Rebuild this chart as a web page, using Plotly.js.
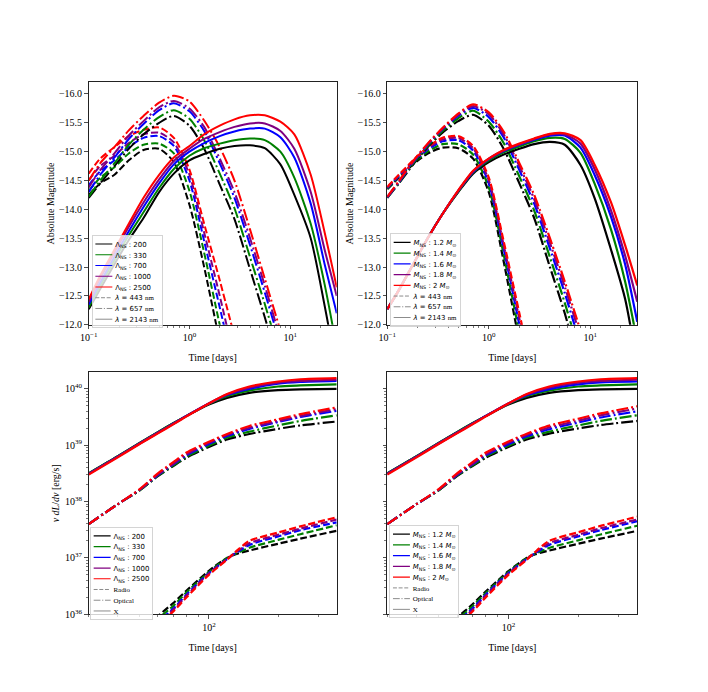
<!DOCTYPE html>
<html><head><meta charset="utf-8">
<script src="https://cdn.plot.ly/plotly-3.0.1.min.js"></script>
<style>html,body{margin:0;padding:0;background:#fff}#chart{width:708px;height:692px}</style>
</head><body><div id="chart"></div><script>
// ---------- tick labels / categories ----------
const LAMBDA_LABELS = ['200', '330', '700', '1000', '2500'];
const MASS_LABELS = ['1.2', '1.4', '1.6', '1.8', '2'];
const BAND_LABELS = ['443', '657', '2143'];
const CHANNEL_LABELS = ['Radio', 'Optical', 'X'];
const X_TOP_TICKS = [0.1, 1, 10];
const X_TOP_TEXT = ['10<sup>−1</sup>', '10<sup>0</sup>', '10<sup>1</sup>'];
const X_BOT_TICKS = [100];
const X_BOT_TEXT = ['10<sup>2</sup>'];
const Y_BOT_TICKS = [1e36, 1e37, 1e38, 1e39, 1e40];
const Y_BOT_TEXT = ['10<sup>36</sup>', '10<sup>37</sup>', '10<sup>38</sup>', '10<sup>39</sup>', '10<sup>40</sup>'];

// ---------- time grids (days) ----------
const T_TOP = [0.1, 0.13, 0.18, 0.25, 0.35, 0.5, 0.7, 1.0, 1.4, 2.0, 2.8, 4.0, 5.6, 8.0, 11, 16, 22, 29];
const T_BOT = [30, 40, 50, 60, 70, 80, 100, 120, 150, 200, 250, 360];
const T_RADIO = [50, 60, 70, 80, 100, 120, 130, 150, 200, 250, 360];

// ---------- Panel A: Lambda_NS, absolute magnitude (rows: 200,330,700,1000,2500) ----------
const A_443 = [
  [-14.25, -14.45, -14.6, -14.85, -15.03, -15.05, -14.82, -14.08, -13.0, -11.7],
  [-14.32, -14.55, -14.73, -14.97, -15.12, -15.14, -14.97, -14.32, -13.25, -12.0, -10.9],
  [-14.42, -14.66, -14.85, -15.08, -15.24, -15.27, -15.1, -14.5, -13.45, -12.3, -11.2],
  [-14.5, -14.75, -14.93, -15.15, -15.3, -15.33, -15.16, -14.6, -13.6, -12.5, -11.4],
  [-14.62, -14.88, -15.08, -15.27, -15.38, -15.42, -15.24, -14.69, -13.75, -12.77, -11.8]
];
const A_657 = [
  [-14.2, -14.45, -14.75, -15.05, -15.3, -15.5, -15.62, -15.45, -15.05, -14.43, -13.83, -12.96, -12.13, -11.2],
  [-14.22, -14.5, -14.8, -15.12, -15.38, -15.6, -15.72, -15.57, -15.2, -14.62, -14.02, -13.17, -12.36, -11.45],
  [-14.3, -14.6, -14.9, -15.22, -15.48, -15.72, -15.84, -15.7, -15.36, -14.8, -14.2, -13.38, -12.56, -11.65],
  [-14.38, -14.68, -14.97, -15.28, -15.53, -15.77, -15.88, -15.75, -15.43, -14.88, -14.3, -13.5, -12.68, -11.75],
  [-14.5, -14.8, -15.08, -15.37, -15.62, -15.85, -15.97, -15.87, -15.54, -15.08, -14.5, -13.65, -12.8, -11.9]
];
const A_2143 = [
  [-12.27, -12.62, -13.05, -13.47, -13.85, -14.3, -14.62, -14.85, -14.96, -15.05, -15.1, -15.11, -15.06, -14.78, -14.25, -13.5, -12.33, -11.2],
  [-12.3, -12.68, -13.12, -13.55, -13.95, -14.37, -14.7, -14.93, -15.06, -15.14, -15.2, -15.23, -15.2, -15.0, -14.55, -13.75, -12.7, -11.6],
  [-12.35, -12.73, -13.18, -13.62, -14.04, -14.45, -14.78, -15.0, -15.15, -15.27, -15.35, -15.4, -15.4, -15.25, -14.9, -14.1, -13.05, -12.2],
  [-12.4, -12.8, -13.25, -13.7, -14.12, -14.52, -14.84, -15.05, -15.22, -15.34, -15.43, -15.49, -15.49, -15.36, -15.05, -14.3, -13.3, -12.5],
  [-12.44, -12.85, -13.3, -13.75, -14.2, -14.6, -14.9, -15.1, -15.3, -15.45, -15.56, -15.63, -15.63, -15.52, -15.3, -14.6, -13.6, -12.65]
];

// ---------- Panel B: M_NS, absolute magnitude (rows: 1.2,1.4,1.6,1.8,2) ----------
const B_443 = [
  [-14.35, -14.55, -14.78, -14.97, -15.07, -15.06, -14.88, -14.3, -13.1, -11.7],
  [-14.36, -14.57, -14.8, -15.0, -15.13, -15.13, -14.95, -14.38, -13.22, -11.85],
  [-14.37, -14.58, -14.82, -15.04, -15.18, -15.2, -15.02, -14.45, -13.32, -12.0, -10.8],
  [-14.38, -14.59, -14.83, -15.06, -15.21, -15.24, -15.06, -14.5, -13.38, -12.1, -10.9],
  [-14.39, -14.6, -14.85, -15.08, -15.24, -15.27, -15.1, -14.55, -13.45, -12.2, -11.0]
];
const B_657 = [
  [-14.2, -14.45, -14.78, -15.08, -15.33, -15.53, -15.64, -15.45, -15.05, -14.45, -13.85, -13.0, -12.2, -11.2],
  [-14.2, -14.46, -14.8, -15.1, -15.36, -15.58, -15.71, -15.52, -15.15, -14.57, -13.98, -13.17, -12.38, -11.45],
  [-14.21, -14.47, -14.82, -15.12, -15.39, -15.62, -15.76, -15.6, -15.25, -14.68, -14.1, -13.32, -12.55, -11.65],
  [-14.21, -14.48, -14.83, -15.13, -15.4, -15.64, -15.79, -15.65, -15.3, -14.75, -14.18, -13.42, -12.66, -11.8],
  [-14.22, -14.49, -14.84, -15.14, -15.41, -15.66, -15.82, -15.68, -15.35, -14.8, -14.25, -13.5, -12.75, -11.9]
];
const B_2143 = [
  [-12.27, -12.6, -13.05, -13.5, -13.92, -14.3, -14.62, -14.82, -14.95, -15.05, -15.13, -15.17, -15.12, -14.77, -14.2, -13.3, -12.45, -11.3],
  [-12.27, -12.6, -13.05, -13.5, -13.92, -14.31, -14.64, -14.85, -14.99, -15.09, -15.18, -15.24, -15.22, -14.98, -14.45, -13.65, -12.75, -11.7],
  [-12.27, -12.6, -13.05, -13.5, -13.92, -14.32, -14.65, -14.87, -15.01, -15.12, -15.21, -15.28, -15.28, -15.07, -14.6, -13.87, -13.05, -12.05],
  [-12.27, -12.6, -13.05, -13.5, -13.92, -14.32, -14.66, -14.88, -15.02, -15.13, -15.22, -15.3, -15.3, -15.14, -14.7, -13.98, -13.2, -12.4],
  [-12.27, -12.6, -13.05, -13.5, -13.92, -14.33, -14.67, -14.88, -15.03, -15.14, -15.23, -15.31, -15.32, -15.2, -14.78, -14.12, -13.38, -12.68]
];

// ---------- Panel C: Lambda_NS, nu dL/dnu [erg/s] ----------
const C_RADIO = [
  [5.0e35, 9.3e35, 1.58e36, 2.63e36, 5.9e36, 1.0e37, 1.15e37, 1.35e37, 1.78e37, 2.19e37, 3.02e37],
  [4.4e35, 8.3e35, 1.41e36, 2.45e36, 5.6e36, 1.0e37, 1.17e37, 1.51e37, 2.09e37, 2.63e37, 3.8e37],
  [4.0e35, 7.4e35, 1.26e36, 2.24e36, 5.4e36, 9.5e36, 1.2e37, 1.7e37, 2.4e37, 3.1e37, 4.27e37],
  [3.7e35, 6.9e35, 1.2e36, 2.14e36, 5.25e36, 9.5e36, 1.23e37, 1.82e37, 2.57e37, 3.31e37, 4.79e37],
  [3.4e35, 6.3e35, 1.12e36, 2.0e36, 5.0e36, 9.3e36, 1.26e37, 2.0e37, 2.82e37, 3.63e37, 5.25e37]
];
const C_OPT = [
  [3.98e37, 8.9e37, 1.58e38, 2.82e38, 4.27e38, 6.0e38, 9.3e38, 1.26e39, 1.58e39, 1.95e39, 2.24e39, 2.63e39],
  [3.98e37, 8.9e37, 1.58e38, 2.88e38, 4.37e38, 6.3e38, 9.8e38, 1.35e39, 1.74e39, 2.24e39, 2.69e39, 3.39e39],
  [3.98e37, 8.9e37, 1.62e38, 2.95e38, 4.57e38, 6.6e38, 1.05e39, 1.45e39, 1.95e39, 2.57e39, 3.16e39, 4.07e39],
  [3.98e37, 8.9e37, 1.62e38, 3.0e38, 4.68e38, 6.9e38, 1.1e39, 1.51e39, 2.04e39, 2.69e39, 3.31e39, 4.37e39],
  [3.98e37, 8.9e37, 1.66e38, 3.16e38, 5.0e38, 7.4e38, 1.15e39, 1.58e39, 2.19e39, 2.88e39, 3.55e39, 4.68e39]
];
const C_X = [
  [3.16e38, 6.3e38, 1.1e39, 1.7e39, 2.45e39, 3.31e39, 5.25e39, 6.9e39, 8.5e39, 9.5e39, 9.8e39, 1.0e40],
  [3.16e38, 6.3e38, 1.1e39, 1.7e39, 2.45e39, 3.31e39, 5.4e39, 7.4e39, 9.3e39, 1.1e40, 1.15e40, 1.2e40],
  [3.1e38, 6.2e38, 1.07e39, 1.66e39, 2.4e39, 3.31e39, 5.5e39, 7.8e39, 1.0e40, 1.23e40, 1.32e40, 1.38e40],
  [3.1e38, 6.2e38, 1.07e39, 1.66e39, 2.4e39, 3.31e39, 5.5e39, 7.9e39, 1.05e40, 1.29e40, 1.38e40, 1.46e40],
  [3.0e38, 6.0e38, 1.05e39, 1.62e39, 2.34e39, 3.24e39, 5.5e39, 8.1e39, 1.1e40, 1.35e40, 1.48e40, 1.55e40]
];

// ---------- Panel D: M_NS, nu dL/dnu [erg/s] ----------
const D_RADIO = [
  [4.6e35, 8.7e35, 1.5e36, 2.55e36, 5.8e36, 1.0e37, 1.15e37, 1.35e37, 1.78e37, 2.19e37, 3.02e37],
  [4.2e35, 8.0e35, 1.38e36, 2.4e36, 5.6e36, 1.0e37, 1.17e37, 1.5e37, 2.05e37, 2.6e37, 3.72e37],
  [3.9e35, 7.3e35, 1.26e36, 2.24e36, 5.4e36, 9.6e36, 1.2e37, 1.7e37, 2.4e37, 3.1e37, 4.47e37],
  [3.6e35, 6.8e35, 1.2e36, 2.14e36, 5.25e36, 9.5e36, 1.23e37, 1.82e37, 2.57e37, 3.35e37, 4.79e37],
  [3.4e35, 6.3e35, 1.12e36, 2.0e36, 5.0e36, 9.3e36, 1.26e37, 2.0e37, 2.85e37, 3.7e37, 5.37e37]
];
const D_OPT = [
  [3.98e37, 8.9e37, 1.58e38, 2.82e38, 4.27e38, 6.0e38, 9.3e38, 1.26e39, 1.6e39, 1.98e39, 2.28e39, 2.69e39],
  [3.98e37, 8.9e37, 1.58e38, 2.88e38, 4.37e38, 6.3e38, 9.8e38, 1.35e39, 1.74e39, 2.24e39, 2.69e39, 3.39e39],
  [3.98e37, 8.9e37, 1.62e38, 2.95e38, 4.57e38, 6.6e38, 1.04e39, 1.44e39, 1.92e39, 2.52e39, 3.1e39, 3.98e39],
  [3.98e37, 8.9e37, 1.62e38, 3.0e38, 4.68e38, 6.9e38, 1.1e39, 1.52e39, 2.06e39, 2.72e39, 3.38e39, 4.47e39],
  [3.98e37, 8.9e37, 1.66e38, 3.16e38, 5.0e38, 7.4e38, 1.16e39, 1.6e39, 2.22e39, 2.95e39, 3.66e39, 4.9e39]
];
const D_X = [
  [3.16e38, 6.3e38, 1.1e39, 1.7e39, 2.45e39, 3.31e39, 5.25e39, 6.9e39, 8.5e39, 9.5e39, 9.8e39, 1.0e40],
  [3.16e38, 6.3e38, 1.1e39, 1.7e39, 2.45e39, 3.31e39, 5.4e39, 7.4e39, 9.3e39, 1.1e40, 1.15e40, 1.2e40],
  [3.1e38, 6.2e38, 1.07e39, 1.66e39, 2.4e39, 3.31e39, 5.5e39, 7.7e39, 9.9e39, 1.2e40, 1.3e40, 1.35e40],
  [3.1e38, 6.2e38, 1.07e39, 1.66e39, 2.4e39, 3.31e39, 5.5e39, 7.9e39, 1.05e40, 1.29e40, 1.38e40, 1.46e40],
  [3.0e38, 6.0e38, 1.05e39, 1.62e39, 2.34e39, 3.24e39, 5.5e39, 8.1e39, 1.1e40, 1.35e40, 1.48e40, 1.55e40]
];

// ---------- styles ----------
const COLORS = ['#000000', '#008000', '#0000ff', '#800080', '#ff0000'];
const DASHES = ['7px,3px', '12px,3px,2px,3px', 'solid'];
const SERIF = 'Liberation Serif, Times New Roman, serif';
const SANS = 'DejaVu Sans, sans-serif';
const LEG_SCALE = 0.565;

const nameA = LAMBDA_LABELS.map(v => 'Λ<sub>NS</sub> : ' + v);
const nameB = MASS_LABELS.map(v => '<i>M</i><sub>NS</sub> : ' + v + ' <i>M</i><sub>⊙</sub>');
const styleAB = BAND_LABELS.map(v => '<i>λ</i> = ' + v + ' <span style="font-family:Liberation Serif">nm</span>');
const styleCD = CHANNEL_LABELS.map(v => '<span style="font-family:Liberation Serif">' + v + '</span>');

const traces = [];
function addPanel(tArrs, bands, names, styleNames, xa, ya, leg, lw) {
  bands.forEach(function (band, b) {
    band.forEach(function (ys, i) {
      traces.push({
        type: 'scatter', mode: 'lines', x: tArrs[b], y: ys, xaxis: xa, yaxis: ya, legend: leg,
        name: names[i], showlegend: b === 2, hoverinfo: 'skip',
        line: {color: COLORS[i], width: lw, dash: DASHES[b], shape: 'spline', smoothing: 0.7}
      });
    });
  });
  styleNames.forEach(function (nm, b) {
    traces.push({
      type: 'scatter', mode: 'lines', x: [null], y: [null], xaxis: xa, yaxis: ya, legend: leg,
      name: nm, showlegend: true, hoverinfo: 'skip',
      line: {color: '#808080', width: 1.6, dash: DASHES[b]}
    });
  });
}
addPanel([T_TOP, T_TOP, T_TOP], [A_443, A_657, A_2143], nameA, styleAB, 'x', 'y', 'legend', 2);
addPanel([T_TOP, T_TOP, T_TOP], [B_443, B_657, B_2143], nameB, styleAB, 'x2', 'y2', 'legend2', 2.2);
addPanel([T_RADIO, T_BOT, T_BOT], [C_RADIO, C_OPT, C_X], nameA, styleCD, 'x3', 'y3', 'legend3', 2.2);
addPanel([T_RADIO, T_BOT, T_BOT], [D_RADIO, D_OPT, D_X], nameB, styleCD, 'x4', 'y4', 'legend4', 2.2);

// ---------- axes ----------
function logMinor(lo, hi) {
  const out = [];
  for (let e = lo; e <= hi; e++) for (let m = 2; m <= 9; m++) out.push(m * Math.pow(10, e));
  return out;
}
const MINOR = {ticks: 'outside', ticklen: 2, tickwidth: 0.6, tickcolor: '#222'};
function ax(o) {
  return Object.assign({
    showline: true, mirror: true, linecolor: '#222', linewidth: 1.1,
    ticks: 'outside', ticklen: 3.5, tickwidth: 0.8, tickcolor: '#222',
    showgrid: false, zeroline: false, automargin: false,
    tickfont: {family: SERIF, size: 10, color: '#000'}
  }, o);
}
const XL = [0.1253, 0.4756], XR = [0.5470, 0.9001];
const YT = [0.5293, 0.8805], YB = [0.1098, 0.4605];
const timeTitleTop = {text: 'Time [days]', font: {family: SERIF, size: 10, color: '#000'}, standoff: 11};
const timeTitleBot = {text: 'Time [days]', font: {family: SERIF, size: 10, color: '#000'}, standoff: 12};
const magTitle = {text: 'Absolute Magnitude', font: {family: SERIF, size: 10, color: '#000'}, standoff: 2};
const lumTitle = {text: '<i>ν dL</i>/<i>dν</i> [erg/s]', font: {family: SERIF, size: 10, color: '#000'}, standoff: 3};

function xTop(dom, anchor) {
  return ax({domain: dom, anchor: anchor, type: 'log', range: [-1, Math.log10(29)],
    tickmode: 'array', tickvals: X_TOP_TICKS, ticktext: X_TOP_TEXT,
    minor: Object.assign({tickmode: 'array', tickvals: logMinor(-1, 1)}, MINOR), title: timeTitleTop});
}
function yTop(dom, anchor) {
  return ax({domain: dom, anchor: anchor, range: [-12, -16.2], tick0: -16, dtick: 0.5,
    tickformat: '.1f', title: magTitle});
}
function xBot(dom, anchor) {
  return ax({domain: dom, anchor: anchor, type: 'log', range: [Math.log10(30), Math.log10(360)],
    tickmode: 'array', tickvals: X_BOT_TICKS, ticktext: X_BOT_TEXT,
    minor: Object.assign({tickmode: 'array', tickvals: logMinor(1, 2)}, MINOR), title: timeTitleBot});
}
function yBot(dom, anchor, labels) {
  return ax({domain: dom, anchor: anchor, type: 'log', range: [36, 40.294],
    tickmode: 'array', tickvals: Y_BOT_TICKS, ticktext: Y_BOT_TEXT, showticklabels: labels,
    minor: Object.assign({tickmode: 'array', tickvals: logMinor(36, 39)}, MINOR),
    title: labels ? lumTitle : {text: ''}});
}
function legendCfg(x, y) {
  return {x: x, y: y, xanchor: 'left', yanchor: 'top', bgcolor: 'rgba(255,255,255,0.8)',
    bordercolor: '#cccccc', borderwidth: 1.5, tracegroupgap: 0, itemwidth: 30,
    font: {family: SANS, size: 12.3, color: '#000'}};
}

const layout = {
  width: 708, height: 692, margin: {l: 0, r: 0, t: 0, b: 0},
  paper_bgcolor: '#fff', plot_bgcolor: '#fff', showlegend: true,
  font: {family: SERIF, size: 10, color: '#000'},
  xaxis: xTop(XL, 'y'), yaxis: yTop(YT, 'x'),
  xaxis2: xTop(XR, 'y2'), yaxis2: yTop(YT, 'x2'),
  xaxis3: xBot(XL, 'y3'), yaxis3: yBot(YB, 'x3', true),
  xaxis4: xBot(XR, 'y4'), yaxis4: yBot(YB, 'x4', false),
  legend: legendCfg(91.7 / 708, 1 - 235.7 / 692),
  legend2: legendCfg(390 / 708, 1 - 234 / 692),
  legend3: legendCfg(90 / 708, 1 - 528.3 / 692),
  legend4: legendCfg(389.3 / 708, 1 - 526.7 / 692)
};

function shrinkLegends() {
  document.querySelectorAll('#chart .infolayer > g').forEach(function (g) {
    const c = g.getAttribute('class') || '';
    if (/^legend\d*$/.test(c)) {
      let t = (g.getAttribute('transform') || '').replace(/\s*scale\([^)]*\)/, '');
      g.setAttribute('transform', t + ' scale(' + LEG_SCALE + ')');
    }
  });
}
const gd = document.getElementById('chart');
Plotly.newPlot(gd, traces, layout, {staticPlot: true, displayModeBar: false}).then(function () {
  shrinkLegends();
  gd.on && gd.on('plotly_afterplot', shrinkLegends);
});
</script></body></html>
